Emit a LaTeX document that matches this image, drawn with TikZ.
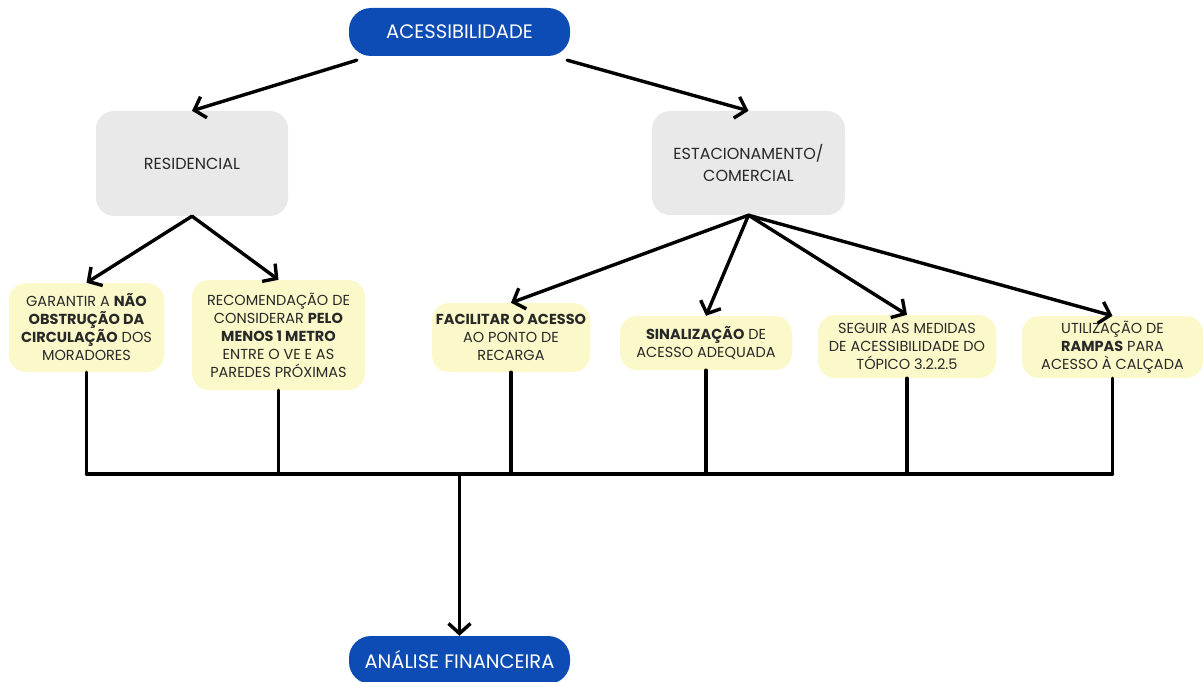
\documentclass[tikz,border=0pt]{standalone}
\usepackage{fontspec}
\setmainfont{Poppins}
\usetikzlibrary{arrows.meta,calc}
\definecolor{pillblue}{RGB}{12,76,180}
\definecolor{boxgray}{RGB}{233,233,234}
\definecolor{boxyellow}{RGB}{251,249,202}
\definecolor{ink}{RGB}{40,40,40}
\tikzset{
  pill/.style={fill=pillblue, rounded corners=22pt, text=white, font=\fontsize{19.5}{22}\selectfont, inner sep=0pt},
  catbox/.style={fill=boxgray, rounded corners=18pt, text=ink, align=center, font=\fontsize{16}{22}\selectfont, inner sep=0pt},
  itembox/.style={fill=boxyellow, rounded corners=17pt, text=ink, align=center, font=\fontsize{14.5}{18}\selectfont, inner sep=0pt},
  link/.style={line width=3.4pt, line cap=round, line join=round, black},
  arr/.style={link, -{Straight Barb[length=10pt, width=22pt, line width=3.4pt]}},
}
\begin{document}
\begin{tikzpicture}[x=1pt, y=-1pt]
\useasboundingbox (0,0) rectangle (1203,682);

% header and footer pills
\node[pill, minimum width=221pt, minimum height=48pt] (acc) at (459.5,32) {ACESSIBILIDADE};
\node[pill, minimum width=221pt, minimum height=48pt] (fin) at (459.5,660) {ANÁLISE FINANCEIRA};

% categories
\node[catbox, minimum width=192pt, minimum height=105pt] (res) at (192,163.5) {RESIDENCIAL};
\node[catbox, minimum width=193pt, minimum height=104pt] (est) at (748.5,163) {ESTACIONAMENTO/\\COMERCIAL};

% measures
\node[itembox, minimum width=155pt, minimum height=89pt] (b1) at (86.5,327.5)
  {GARANTIR A \textbf{NÃO}\\\textbf{OBSTRUÇÃO DA}\\\textbf{CIRCULAÇÃO} DOS\\MORADORES};
\node[itembox, minimum width=173pt, minimum height=110pt] (b2) at (278.5,335)
  {RECOMENDAÇÃO DE\\CONSIDERAR \textbf{PELO}\\\textbf{MENOS 1 METRO}\\ENTRE O VE E AS\\PAREDES PRÓXIMAS};
\node[itembox, minimum width=158pt, minimum height=69pt] (b3) at (511,337.5)
  {\textbf{FACILITAR O ACESSO}\\AO PONTO DE\\RECARGA};
\node[itembox, minimum width=172pt, minimum height=54pt] (b4) at (706,343)
  {\textbf{SINALIZAÇÃO} DE\\ACESSO ADEQUADA};
\node[itembox, minimum width=178pt, minimum height=63pt] (b5) at (907,346.5)
  {SEGUIR AS MEDIDAS\\DE ACESSIBILIDADE DO\\TÓPICO 3.2.2.5};
\node[itembox, minimum width=181pt, minimum height=62pt] (b6) at (1112.5,347)
  {UTILIZAÇÃO DE\\\textbf{RAMPAS} PARA\\ACESSO À CALÇADA};

% branching arrows
\draw[arr] ($(acc.south west)+(8,4)$) -- (res.north);
\draw[arr] ($(acc.south east)+(-3,4)$) -- (est.north);
\foreach \t in {b1,b2} \draw[arr] (res.south) -- (\t.north);
\foreach \t in {b3,b4,b5,b6} \draw[arr] (est.south) -- (\t.north);

% collecting bus
\coordinate (busL) at (86.5,474);
\coordinate (busR) at (1112.5,474);
\coordinate (busM) at (459.5,474);
\draw[link] (busL) -- (busR);
\foreach \s in {b1,b2,b3,b4,b5,b6} \draw[link] (\s.south) -- (\s.south |- busL);
\draw[arr] (busM) -- (fin.north);
\end{tikzpicture}
\end{document}
